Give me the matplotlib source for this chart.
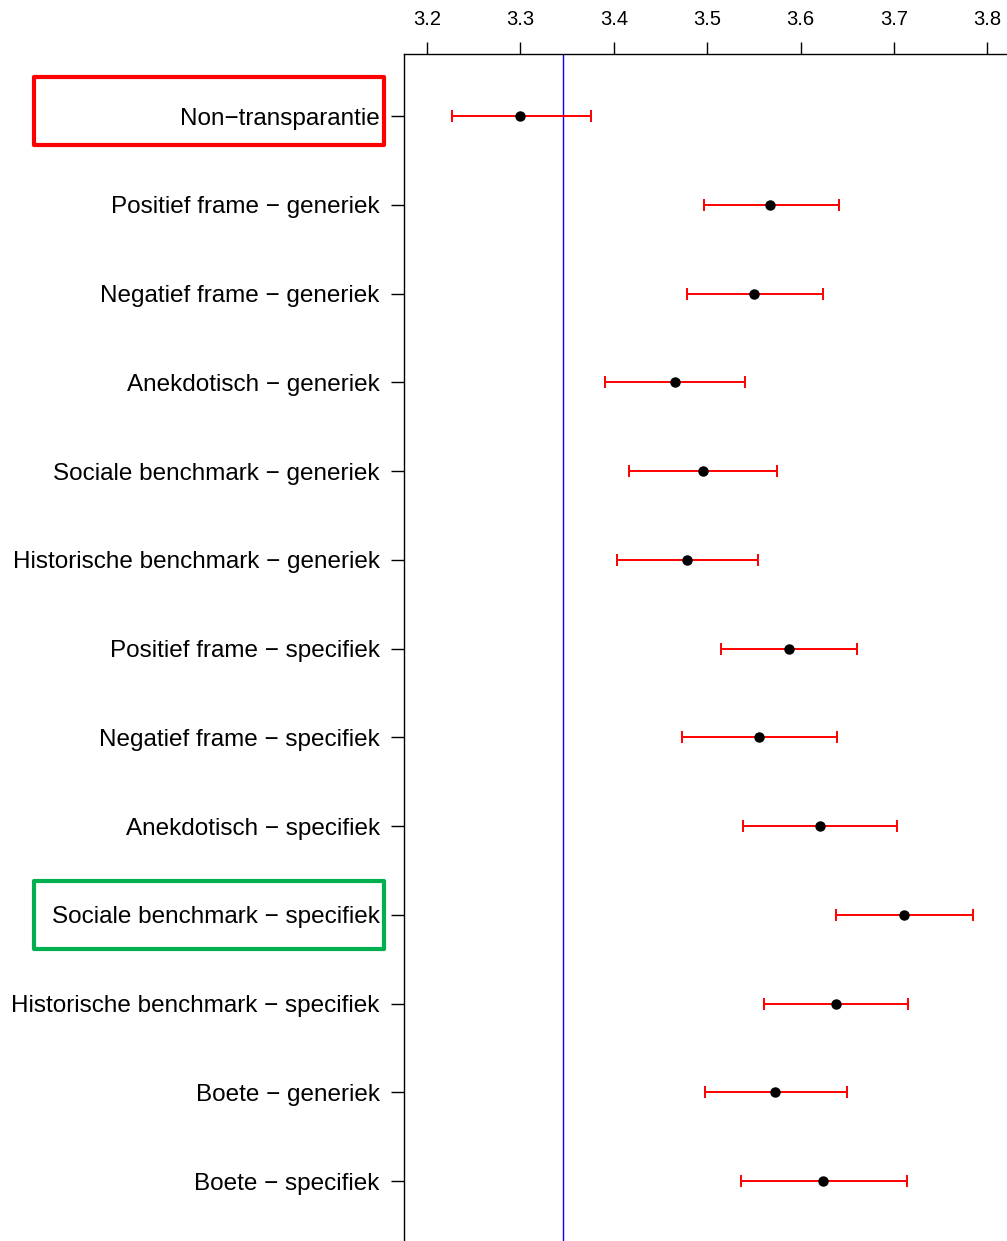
import matplotlib
matplotlib.use('Agg')
import matplotlib.pyplot as plt
from matplotlib.patches import Rectangle

plt.rcParams['font.family'] = ['Liberation Sans', 'DejaVu Sans']

# Data
labels = ['Non\u2212transparantie',
          'Positief frame \u2212 generiek',
          'Negatief frame \u2212 generiek',
          'Anekdotisch \u2212 generiek',
          'Sociale benchmark \u2212 generiek',
          'Historische benchmark \u2212 generiek',
          'Positief frame \u2212 specifiek',
          'Negatief frame \u2212 specifiek',
          'Anekdotisch \u2212 specifiek',
          'Sociale benchmark \u2212 specifiek',
          'Historische benchmark \u2212 specifiek',
          'Boete \u2212 generiek',
          'Boete \u2212 specifiek']
means = [3.300, 3.567, 3.550, 3.466, 3.495, 3.478, 3.588, 3.555, 3.621, 3.711, 3.638, 3.573, 3.624]
lower = [3.227, 3.497, 3.478, 3.391, 3.416, 3.403, 3.515, 3.473, 3.538, 3.638, 3.561, 3.498, 3.536]
upper = [3.376, 3.641, 3.624, 3.540, 3.575, 3.554, 3.660, 3.639, 3.703, 3.785, 3.715, 3.650, 3.714]
ref_line = 3.3456
xticks = [3.2, 3.3, 3.4, 3.5, 3.6, 3.7, 3.8]

W, H = 1007, 1241
fig = plt.figure(figsize=(W / 100, H / 100), dpi=100)
# axes: left at 404 px, top at 54 px, runs off right and bottom edges
ax_l, ax_t, ax_r, ax_b = 404, 54, 1030, 1270
ax = fig.add_axes([ax_l / W, 1 - ax_b / H, (ax_r - ax_l) / W, (ax_b - ax_t) / H])

y = list(range(1, len(labels) + 1))
xerr = [[m - lo for m, lo in zip(means, lower)], [hi - m for m, hi in zip(means, upper)]]
ax.errorbar(means, y, xerr=xerr, fmt='none', ecolor='red', elinewidth=1.4,
            capsize=4.2, capthick=1.4, zorder=2)
ax.plot(means, y, 'o', color='black', markersize=6.5, zorder=3)
ax.axvline(ref_line, color='blue', linewidth=1, zorder=1)

px_x = 934.0  # pixels per unit on x
x0 = 3.2 - (427 - ax_l) / px_x
ax.set_xlim(x0, x0 + (ax_r - ax_l) / px_x)
row = 88.75
ax.set_ylim(13 + (ax_b - 1181) / row, 1 - (116 - ax_t) / row)

ax.xaxis.tick_top()
ax.set_xticks(xticks)
ax.set_xticklabels([f'{t:.1f}' for t in xticks], fontsize=14.5)
ax.set_yticks(y)
ax.set_yticklabels(labels, fontsize=17.5)
ax.tick_params(axis='x', length=9, width=1, pad=9, colors='black')
ax.tick_params(axis='y', length=9.5, width=1, pad=8)
for s in ax.spines.values():
    s.set_linewidth(1)

# highlight boxes around two labels (pixel boxes: x0, y_top, x1, y_bottom)
boxes = [((34, 77, 384, 145), '#FF0000'), ((34, 881, 384, 949), '#00B050')]
for (bx0, by0, bx1, by1), col in boxes:
    rect = Rectangle((bx0 / W, 1 - by1 / H), (bx1 - bx0) / W, (by1 - by0) / H,
                     transform=fig.transFigure, fill=False, edgecolor=col,
                     linewidth=3, joinstyle='round', clip_on=False)
    fig.patches.append(rect)

plt.savefig('out.png', dpi=100)
